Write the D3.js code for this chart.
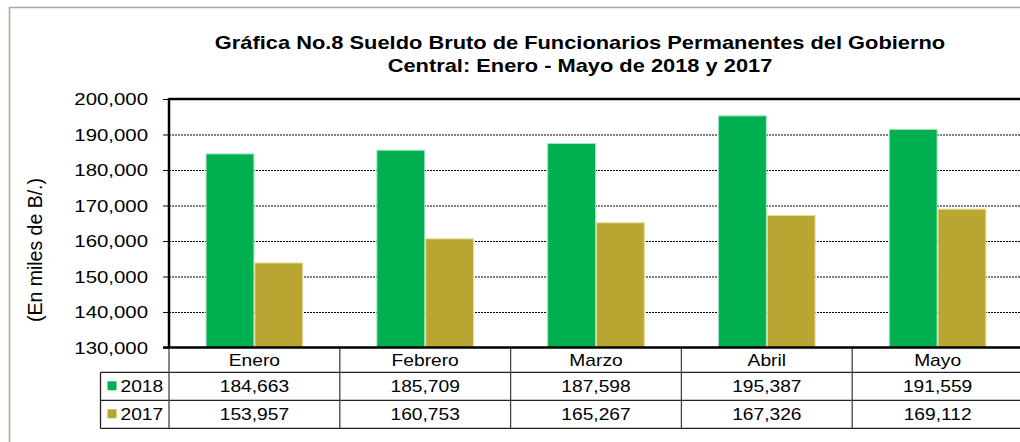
<!DOCTYPE html>
<html>
<head>
<meta charset="utf-8">
<script src="https://cdn.jsdelivr.net/npm/d3@7"></script>
<style>
  body { margin: 0; background: #fff; }
  svg text { font-family: "Liberation Sans", Arial, sans-serif; fill: #000; }
</style>
</head>
<body>
<script>
var months = ['Enero', 'Febrero', 'Marzo', 'Abril', 'Mayo'];
var series = ['2018', '2017'];
var v2018 = [184663, 185709, 187598, 195387, 191559];
var v2017 = [153957, 160753, 165267, 167326, 169112];
var yTicks = [130000, 140000, 150000, 160000, 170000, 180000, 190000, 200000];
var titleLines = ['Gráfica No.8 Sueldo Bruto de Funcionarios Permanentes del Gobierno',
                  'Central: Enero - Mayo de 2018 y 2017'];
var yLabel = '(En miles de B/.)';
var colors = {'2018': '#00b050', '2017': '#b9a532'};
var edges = {'2018': '#9fe3bb', '2017': '#e6dc98'};

var width = 1020, height = 442;
var plotLeft = 169, plotTop = 99, plotBottom = 347.5, bandW = 170.8;
var rowY = [plotBottom, 372.3, 400.3, 428.3];
var stretch = 1.2; // text looks widened in the picture
var fmt = d3.format(',');

var svg = d3.select('body').append('svg')
  .attr('width', width)
  .attr('height', height);

var x = d3.scaleBand().domain(months).range([plotLeft, plotLeft + bandW * months.length]);
var xs = d3.scaleBand().domain(series).range([0, x.bandwidth()]).paddingOuter(0.75);
var y = d3.scaleLinear().domain([130000, 200000]).range([plotBottom, plotTop]);

function label(g, tx, ty, txt, size, anchor, weight) {
  return g.append('text')
    .attr('transform', 'translate(' + tx + ',' + ty + ') scale(' + stretch + ',1)')
    .attr('text-anchor', anchor || 'middle')
    .style('font-size', size + 'px')
    .style('font-weight', weight || 'normal')
    .text(txt);
}

// outer frame
svg.append('line').attr('x1', 9.5).attr('x2', 9.5).attr('y1', 7).attr('y2', height)
  .attr('stroke', '#a9a97a').attr('stroke-width', 1.5);
svg.append('line').attr('x1', 9).attr('x2', width).attr('y1', 7.5).attr('y2', 7.5)
  .attr('stroke', '#a6a6a6').attr('stroke-width', 1.5);

// title
titleLines.forEach(function(t, i) {
  label(svg, 580, 48.5 + i * 23.4, t, 18.2, 'middle', 'bold');
});

// y label
svg.append('text')
  .attr('transform', 'translate(42,250) scale(1.05,1) rotate(-90)')
  .attr('text-anchor', 'middle')
  .style('font-size', '19.5px')
  .text(yLabel);

// gridlines
var grid = svg.append('g')
  .attr('transform', 'translate(' + plotLeft + ',0)')
  .call(d3.axisLeft(y).tickValues(yTicks.slice(1, -1)).tickSize(-(width - plotLeft)).tickFormat(''));
grid.select('.domain').remove();
grid.selectAll('line').attr('stroke', '#000').attr('stroke-width', 1).attr('stroke-dasharray', '2,1');

// y axis ticks and labels
var yAxis = svg.append('g')
  .attr('transform', 'translate(' + plotLeft + ',0)')
  .call(d3.axisLeft(y).tickValues(yTicks).tickSize(6).tickFormat(''));
yAxis.select('.domain').remove();
yAxis.selectAll('line').attr('stroke', '#000');
yTicks.forEach(function(t) {
  label(svg, 148, y(t) + 6, fmt(t), 17, 'end');
});

// bars
var data = months.map(function(m, i) { return {month: m, '2018': v2018[i], '2017': v2017[i]}; });
svg.append('g').selectAll('g')
  .data(data)
  .enter().append('g')
  .attr('transform', function(d) { return 'translate(' + x(d.month) + ',0)'; })
  .selectAll('rect')
  .data(function(d) { return series.map(function(s) { return {s: s, v: d[s]}; }); })
  .enter().append('rect')
  .attr('x', function(d) { return xs(d.s) + 0.5; })
  .attr('width', xs.bandwidth() - 1)
  .attr('y', function(d) { return y(d.v) + 0.5; })
  .attr('height', function(d) { return plotBottom - y(d.v) - 0.5; })
  .attr('fill', function(d) { return colors[d.s]; })
  .attr('stroke', function(d) { return edges[d.s]; })
  .attr('stroke-width', 1);

// plot border
svg.append('line').attr('x1', plotLeft).attr('x2', width).attr('y1', plotTop).attr('y2', plotTop)
  .attr('stroke', '#000').attr('stroke-width', 2.5);
svg.append('line').attr('x1', plotLeft).attr('x2', plotLeft).attr('y1', plotTop - 1).attr('y2', plotBottom)
  .attr('stroke', '#000').attr('stroke-width', 2.5);

// data table
var tbl = svg.append('g');
rowY.slice(1).forEach(function(ry) {
  tbl.append('line').attr('x1', 100.5).attr('x2', width).attr('y1', ry).attr('y2', ry)
    .attr('stroke', '#222').attr('stroke-width', 1.3);
});
tbl.append('line').attr('x1', 100.5).attr('x2', 100.5).attr('y1', rowY[1]).attr('y2', rowY[3])
  .attr('stroke', '#222').attr('stroke-width', 1.3);
months.concat(['end']).forEach(function(m) {
  var bx = m === 'end' ? x.range()[1] : x(m);
  tbl.append('line').attr('x1', bx).attr('x2', bx).attr('y1', plotBottom).attr('y2', rowY[3])
    .attr('stroke', '#444').attr('stroke-width', 1.3);
});
svg.append('line').attr('x1', plotLeft - 6).attr('x2', width).attr('y1', plotBottom).attr('y2', plotBottom)
  .attr('stroke', '#000').attr('stroke-width', 2.5);

months.forEach(function(m, i) {
  var cx = x(m) + x.bandwidth() / 2;
  label(tbl, cx, rowY[0] + 18.5, m, 16);
  label(tbl, cx, rowY[1] + 20, fmt(v2018[i]), 16);
  label(tbl, cx, rowY[2] + 20, fmt(v2017[i]), 16);
});
series.forEach(function(s, i) {
  var ry = rowY[i + 1];
  tbl.append('rect').attr('x', 107.5).attr('y', ry + 9).attr('width', 9).attr('height', 9)
    .attr('fill', colors[s]);
  label(tbl, 120.5, ry + 20, s, 16, 'start');
});
</script>
</body>
</html>
